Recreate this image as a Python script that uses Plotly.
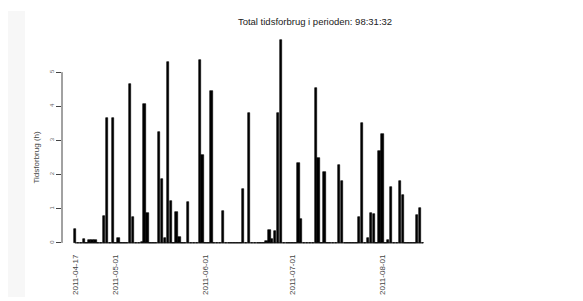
import pandas as pd
import plotly.graph_objects as go

# Non-zero days (date, hours)
dates = ["2011-04-17", "2011-04-20", "2011-04-22", "2011-04-23", "2011-04-24",
         "2011-04-27", "2011-04-28", "2011-04-30", "2011-05-02", "2011-05-06",
         "2011-05-07", "2011-05-10", "2011-05-11", "2011-05-12", "2011-05-16",
         "2011-05-17", "2011-05-18", "2011-05-19", "2011-05-20", "2011-05-22",
         "2011-05-23", "2011-05-26", "2011-05-30", "2011-05-31", "2011-06-03",
         "2011-06-07", "2011-06-14", "2011-06-16", "2011-06-22", "2011-06-23",
         "2011-06-24", "2011-06-25", "2011-06-26", "2011-06-27", "2011-07-03",
         "2011-07-04", "2011-07-09", "2011-07-10", "2011-07-12", "2011-07-17",
         "2011-07-18", "2011-07-24", "2011-07-25", "2011-07-27", "2011-07-28",
         "2011-07-29", "2011-07-31", "2011-08-01", "2011-08-03", "2011-08-04",
         "2011-08-07", "2011-08-08", "2011-08-13", "2011-08-14"]
hours = [0.42, 0.10, 0.07, 0.09, 0.07,
         0.80, 3.65, 3.65, 0.15, 4.65,
         0.76, 0.03, 4.06, 0.88, 3.25,
         1.87, 0.15, 5.30, 1.23, 0.90,
         0.17, 1.20, 5.35, 2.57, 4.44,
         0.92, 1.58, 3.80, 0.05, 0.38,
         0.10, 0.36, 3.80, 5.93, 2.33,
         0.70, 4.53, 2.48, 2.08, 2.28,
         1.81, 0.77, 3.50, 0.13, 0.87,
         0.85, 2.70, 3.20, 0.07, 1.63,
         1.81, 1.40, 0.82, 1.02]
period_start = "2011-04-17"
period_end = "2011-08-15"
tick_dates = ["2011-04-17", "2011-05-01", "2011-06-01", "2011-07-01", "2011-08-01"]
y_ticks = [0, 1, 2, 3, 4, 5]
title_text = "Total tidsforbrug i perioden: 98:31:32"
y_title = "Tidsforbrug (h)"

all_days = pd.date_range(period_start, period_end, freq="D")
series = pd.Series(hours, index=pd.to_datetime(dates)).reindex(all_days, fill_value=0.0)

fig = go.Figure()
fig.add_trace(go.Scatter(
    x=[all_days[0], all_days[-1]], y=[0, 0], mode="lines",
    line=dict(color="black", width=1), hoverinfo="skip", showlegend=False))
fig.add_trace(go.Bar(
    x=series.index, y=series.values,
    width=86400000 * 0.85,
    marker=dict(color="black", line=dict(color="black", width=0.6)),
    showlegend=False))

FONT = "Liberation Sans, Arial, sans-serif"
fig.update_layout(
    width=583, height=301,
    margin=dict(l=62, r=153, t=38, b=53, autoexpand=False),
    paper_bgcolor="white", plot_bgcolor="white",
    font=dict(family=FONT, color="#333"),
    bargap=0,
    title=dict(text=title_text, font=dict(size=9.5, color="#222", family=FONT),
               xref="container", x=315 / 583, xanchor="center",
               yref="container", y=1 - 22 / 301, yanchor="middle"),
    xaxis=dict(type="date",
               range=["2011-04-12 12:00", "2011-08-17 09:36"],
               tickvals=tick_dates, ticktext=tick_dates,
               tickangle=-90, tickfont=dict(size=8, color="#444"),
               showgrid=False, zeroline=False, showline=False, ticks="",
               ticklabelstandoff=4, automargin=False),
    yaxis=dict(range=[-0.15, 6.0], tickvals=y_ticks,
               ticktext=[str(v) for v in y_ticks],
               tickangle=-90, tickfont=dict(size=6, color="#666"),
               ticks="outside", ticklen=5, tickwidth=1, tickcolor="#444",
               showgrid=False, zeroline=False, showline=False,
               automargin=False),
    shapes=[
        dict(type="line", xref="paper", yref="y", x0=0, x1=0,
             y0=y_ticks[0], y1=y_ticks[-1], line=dict(color="#444", width=1)),
        dict(type="rect", xref="paper", yref="paper",
             x0=(8 - 62) / 368, x1=(25 - 62) / 368,
             y0=(248 - 297) / 210, y1=(248 - 11) / 210,
             fillcolor="#f7f7f7", line=dict(width=0), layer="below"),
    ],
    annotations=[
        dict(text=y_title, xref="paper", yref="y", x=(37 - 62) / 368, y=2.5,
             xanchor="center", yanchor="middle", textangle=-90, showarrow=False,
             font=dict(size=8, color="#444", family=FONT)),
    ],
)

fig.write_html("out.html", config={"displayModeBar": False},
               post_script="document.body.style.margin='0';document.body.style.padding='0';")
